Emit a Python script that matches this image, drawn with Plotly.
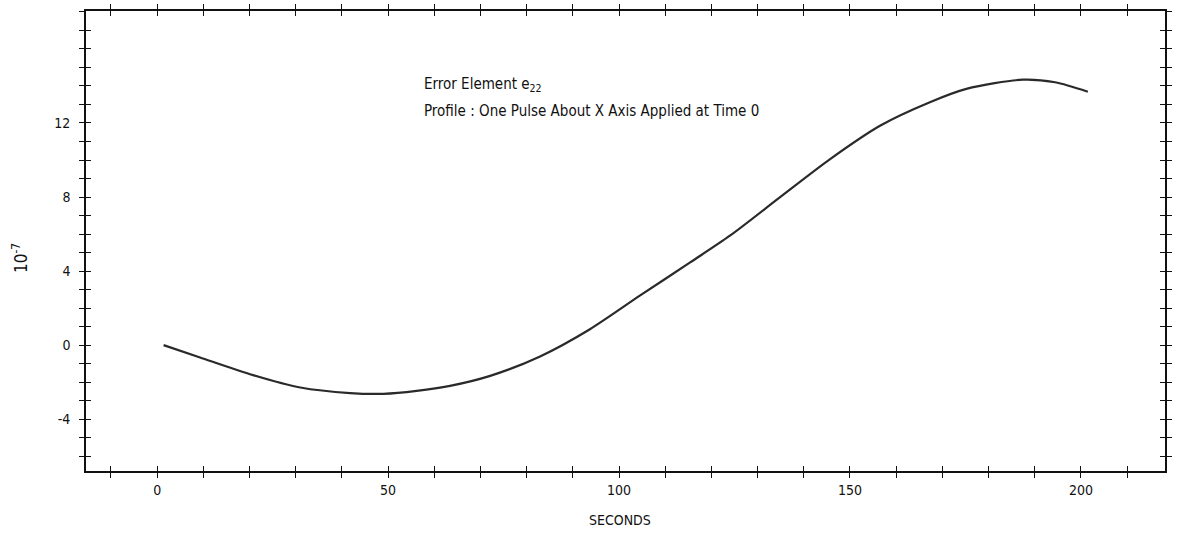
import plotly.graph_objects as go

# Data
seconds = [1.4, 9.3, 20.1, 31.0, 41.8, 49.0, 56.2, 63.4, 72.1, 82.9, 93.7, 104.5,
           115.4, 124.0, 134.8, 145.7, 156.5, 167.3, 175.2, 187.4, 194.4, 201.5]
error_e22 = [0.0, -0.67, -1.57, -2.29, -2.59, -2.63, -2.47, -2.2, -1.66, -0.61, 0.86, 2.67,
             4.47, 5.91, 7.98, 10.05, 11.85, 13.12, 13.84, 14.34, 14.2, 13.69]

x_major_vals = [0, 50, 100, 150, 200]
x_major_labels = ["0", "50", "100", "150", "200"]
x_minor_vals = list(range(-10, 220, 10))
y_major_vals = [-4, 0, 4, 8, 12]
y_major_labels = ["-4", "0", "4", "8", "12"]
y_minor_vals = list(range(-6, 19, 1))

FONT = "Liberation Sans Narrow, DejaVu Sans Condensed, Arial Narrow, sans-serif"

xr = [-15.4, 218.2]
yr = [-6.8, 18.05]

fig = go.Figure()
fig.add_trace(go.Scatter(x=seconds, y=error_e22, mode="lines",
                         line=dict(color="#2a2a2a", width=2.2, shape="spline", smoothing=0.8),
                         showlegend=False, hoverinfo="skip"))
# invisible trace on overlay axes so they render
fig.add_trace(go.Scatter(x=[xr[0]], y=[yr[0]], xaxis="x2", yaxis="y2", mode="markers",
                         marker=dict(opacity=0), showlegend=False, hoverinfo="skip"))

axis_common = dict(showgrid=False, zeroline=False, showline=True, linecolor="#111",
                   linewidth=1.6, mirror="allticks", tickcolor="#111", tickwidth=1.4,
                   ticklen=5, tickmode="array", automargin=False)

fig.update_layout(
    width=1182, height=536,
    margin=dict(l=86, r=17, t=11, b=65),
    paper_bgcolor="white", plot_bgcolor="white",
    font=dict(family=FONT, color="#111", size=14),
    xaxis=dict(range=xr, ticks="outside", tickvals=x_major_vals, ticktext=x_major_labels,
               minor=dict(tickvals=x_minor_vals, ticks="outside", ticklen=5,
                          tickcolor="#111", tickwidth=1.4),
               tickfont=dict(size=14), **axis_common),
    yaxis=dict(range=yr, ticks="outside", tickvals=y_major_vals, ticktext=y_major_labels,
               minor=dict(tickvals=y_minor_vals, ticks="outside", ticklen=5,
                          tickcolor="#111", tickwidth=1.4),
               tickfont=dict(size=14), ticklabelstandoff=6, **axis_common),
    xaxis2=dict(range=xr, overlaying="x", ticks="inside", tickvals=x_minor_vals,
                showticklabels=False, **axis_common),
    yaxis2=dict(range=yr, overlaying="y", ticks="inside", tickvals=y_minor_vals,
                showticklabels=False, **axis_common),
    annotations=[
        dict(text="Error Element e<sub>22</sub>", xref="paper", yref="paper",
             x=0.3114, y=0.841, xanchor="left", yanchor="middle", showarrow=False,
             font=dict(size=15)),
        dict(text="Profile : One Pulse About X Axis Applied at Time 0", xref="paper", yref="paper",
             x=0.3114, y=0.7826, xanchor="left", yanchor="middle", showarrow=False,
             font=dict(size=15)),
        dict(text="10<sup>-7</sup>", xref="paper", yref="paper", x=-0.0612, y=0.463,
             xanchor="center", yanchor="middle", textangle=-90, showarrow=False,
             font=dict(size=17)),
        dict(text="SECONDS", xref="paper", yref="paper", x=0.495, y=-0.1065,
             xanchor="center", yanchor="middle", showarrow=False, font=dict(size=14)),
    ],
)

fig.write_html("out.html")
